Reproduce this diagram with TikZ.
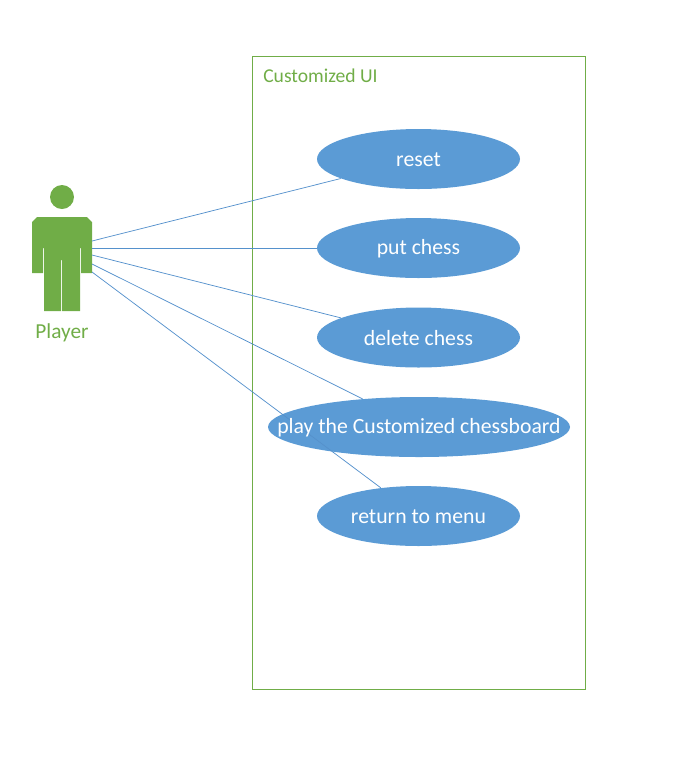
\documentclass[tikz,border=0pt]{standalone}
\usepackage{fontspec}
\setmainfont{Carlito}
\usetikzlibrary{shapes.geometric}
\definecolor{usegreen}{HTML}{70AD47}
\definecolor{useblue}{HTML}{5B9BD5}
\definecolor{linkblue}{HTML}{5591CC}
\begin{document}
\begin{tikzpicture}[
    x=0.75pt, y=-0.75pt,
    usecase/.style={ellipse, fill=useblue, inner sep=0pt, minimum width=152.25pt, minimum height=45pt},
    caselabel/.style={text=white, inner sep=0pt, yshift=-0.75pt, font=\fontsize{16.3}{19}\selectfont},
    link/.style={draw=linkblue, line width=0.55pt}
  ]
    \useasboundingbox (0,0) rectangle (681,769);

    % System frame
    \node[draw=usegreen, line width=0.75pt, rectangle, minimum width=249.75pt, minimum height=474.75pt, inner sep=0pt] (frame) at (419,373) {};
    \node[text=usegreen, anchor=base west, inner sep=0pt, font=\fontsize{14.7}{17}\selectfont] (title) at (263,82) {Customized UI};

    % Actor
    \node[circle, fill=usegreen, minimum size=18pt, inner sep=0pt] (head) at (62,197) {};
    \fill[usegreen] (37,217) -- (87,217) -- (92,222) -- (92,273) -- (81,273) -- (81,248) -- (80,248) -- (80,311) -- (62,311) -- (62,260) -- (61,260) -- (61,311) -- (44,311) -- (44,248) -- (43,248) -- (43,273) -- (32,273) -- (32,222) -- cycle;
    \node[text=usegreen, font=\fontsize{16}{19}\selectfont, anchor=base, inner sep=0pt] (player) at (62,338) {Player};

    % Use cases
    \node[usecase] (reset) at (418.5,159) {};
    \node[usecase] (put) at (418.5,248) {};
    \node[usecase] (delete) at (418.5,337.5) {};
    \node[usecase, minimum width=226.5pt] (play) at (419,427) {};
    \node[usecase] (return) at (418.5,516) {};

    % Arm points
    \coordinate (armA) at (92,241);
    \coordinate (armB) at (92,248);
    \coordinate (armC) at (92,255);
    \coordinate (armD) at (92,264);
    \coordinate (armE) at (92,272);

    % Links
    \draw[link] (armA) -- (reset);
    \draw[link] (armB) -- (put);
    \draw[link] (armC) -- (delete);
    \draw[link] (armD) -- (play);
    \draw[link] (armE) -- (return);

    % Labels
    \node[caselabel] (resetlabel) at (reset) {reset};
    \node[caselabel] (putlabel) at (put) {put chess};
    \node[caselabel] (deletelabel) at (delete) {delete chess};
    \node[caselabel] (playlabel) at (play) {play the Customized chessboard};
    \node[caselabel] (returnlabel) at (return) {return to menu};
  \end{tikzpicture}
\end{document}
